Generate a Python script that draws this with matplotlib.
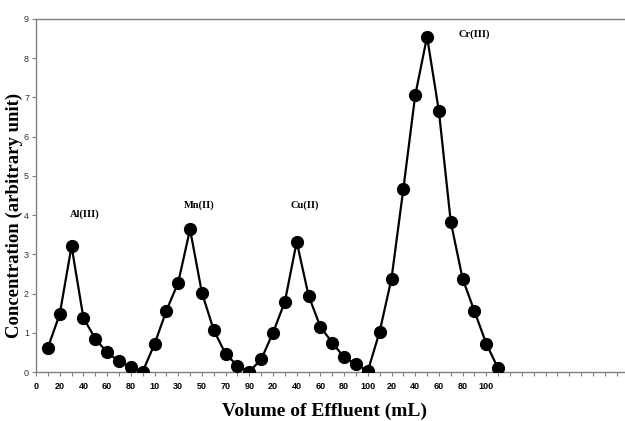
import numpy as np
from matplotlib import pyplot as plt

# category labels along the x axis (Excel-style line chart, one per tick)
categories = ['0', '10', '20', '30', '40', '50', '60', '70', '80', '90',
              '10', '20', '30', '40', '50', '60', '70', '80', '90',
              '10', '20', '30', '40', '50', '60', '70', '80', '90', '100',
              '10', '20', '30', '40', '50', '60', '70', '80', '90', '100', '110']
n_extra = 10  # empty categories to the right

# concentration per fraction (arbitrary unit)
al = [0.62, 1.47, 3.21, 1.38, 0.85, 0.50, 0.27, 0.13, 0.01]
mn = [0.71, 1.56, 2.28, 3.64, 2.02, 1.07, 0.46, 0.16, 0.01]
cu = [0.32, 1.00, 1.79, 3.32, 1.95, 1.15, 0.75, 0.37, 0.20, 0.02]
cr = [1.03, 2.38, 4.67, 7.05, 8.55, 6.65, 3.83, 2.38, 1.55, 0.72, 0.09]

labels = ['Al(III)', 'Mn(II)', 'Cu(II)', 'Cr(III)']
label_pos = [(4.1, 4.03), (13.8, 4.26), (22.7, 4.26), (37.0, 8.62)]

conc = [np.nan] + al + mn + cu + cr
x = np.arange(len(conc))

fig = plt.figure(figsize=(6.25, 4.21), dpi=100)
ax = fig.add_axes([36 / 625, 49 / 421, 1 - 36 / 625, (372 - 19) / 421])

ax.plot(x, conc, color='black', lw=1.6, marker='o', ms=8.5,
        markerfacecolor='black', markeredgecolor='black', zorder=3)

for txt, (px, py) in zip(labels, label_pos):
    ax.text(px, py, txt, ha='center', va='center', fontsize=7.5,
            fontweight='bold', family='Liberation Serif')

ax.set_xlim(0, (625 - 36) / 11.85)
ax.set_ylim(0, 9)

n_all = len(categories) + n_extra
ax.set_xticks(np.arange(n_all))
xt = [c if i % 2 == 0 else '' for i, c in enumerate(categories)] + [''] * n_extra
ax.set_xticklabels(xt, fontsize=6.5, fontweight='bold', family='Liberation Sans')
ax.set_yticks(range(10))
ax.set_yticklabels([str(v) for v in range(10)], fontsize=6.5,
                   family='Liberation Sans', color='#333333')

ax.tick_params(axis='x', direction='out', length=3, width=0.8, color='#808080', pad=4)
ax.tick_params(axis='y', direction='out', length=3, width=0.8, color='#808080', pad=2)

for side in ['left', 'bottom', 'top']:
    ax.spines[side].set_color('#808080')
    ax.spines[side].set_linewidth(1.0)
ax.spines['right'].set_visible(False)

fig.text(14 / 625, 1 - 215 / 421, 'Concentration (arbitrary unit)', rotation=90,
         ha='center', va='center', fontsize=13.5, fontweight='bold',
         family='Liberation Serif')
fig.text(325 / 625, 1 - 411 / 421, 'Volume of Effluent (mL)', ha='center',
         va='center', fontsize=14, fontweight='bold', family='Liberation Serif')

fig.savefig('out.png', dpi=100)
